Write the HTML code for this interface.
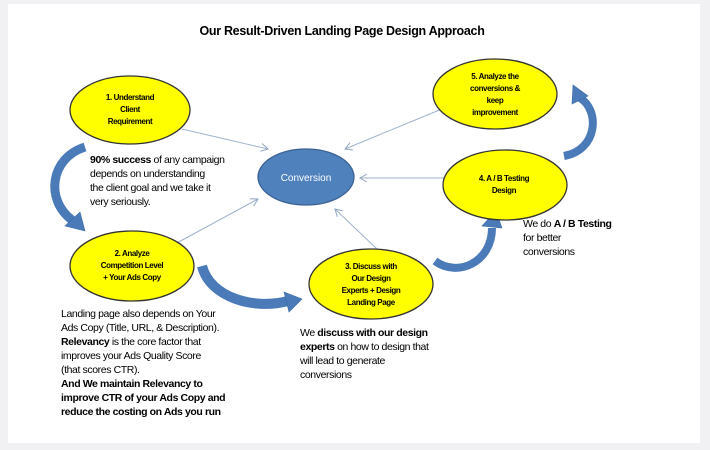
<!DOCTYPE html>
<html><head><meta charset="utf-8"><style>
html,body{margin:0;padding:0;background:#f1f1f3;}
svg{display:block;font-family:"Liberation Sans",sans-serif;}
.lb{font-size:8px;font-weight:bold;text-anchor:middle;letter-spacing:-0.4px;}
.tx{font-size:10.5px;letter-spacing:-0.4px;}
</style></head><body>
<svg width="710" height="450" viewBox="0 0 710 450" xmlns="http://www.w3.org/2000/svg">
<defs>
<marker id="ah" markerWidth="10" markerHeight="10" refX="8" refY="5" orient="auto" markerUnits="userSpaceOnUse"><path d="M1,1 L8,5 L1,9" fill="none" stroke="#8ea3bf" stroke-width="1"/></marker>
</defs>
<rect x="8" y="4" width="692" height="439" fill="#fff"/>
<text x="342" y="35" text-anchor="middle" font-size="12.5" font-weight="bold" letter-spacing="-0.3">Our Result-Driven Landing Page Design Approach</text>

<g stroke="#9fb3cc" stroke-width="1" fill="none">
<line x1="182" y1="129" x2="268" y2="149" marker-end="url(#ah)"/>
<line x1="175" y1="244" x2="258" y2="199" marker-end="url(#ah)"/>
<line x1="378" y1="250" x2="335" y2="209" marker-end="url(#ah)"/>
<line x1="453" y1="178" x2="360" y2="178" marker-end="url(#ah)"/>
<line x1="454" y1="104" x2="345" y2="149" marker-end="url(#ah)"/>
</g>

<!-- curved arrows -->
<g fill="none" stroke="#4a7ab8" stroke-linecap="butt">
<path d="M85,147 C50,158 45,200 72,220" stroke-width="9"/>
<path d="M202,266 C210,298 255,310 288,301" stroke-width="10"/>
<path d="M435,261 C458,278 492,262 492,228" stroke-width="8"/>
<path d="M564,156 C598,150 600,110 580,98" stroke-width="8"/>
</g>
<g fill="#4a7ab8" stroke="#3a6aa5" stroke-width="0.6">
<path d="M65,226 L85,231 L80,212 Z"/>
<path d="M284,292 L302,299 L289,312 Z"/>
<path d="M482,226 L496,211 L502,228 Z"/>
<path d="M572,104 L573,85 L588,96 Z"/>
</g>

<g fill="#ffff00" stroke="#333" stroke-width="1.3">
<ellipse cx="130" cy="110" rx="60" ry="34"/>
<ellipse cx="132" cy="266" rx="62" ry="35"/>
<ellipse cx="371" cy="284" rx="62" ry="35"/>
<ellipse cx="505" cy="185" rx="62" ry="35"/>
<ellipse cx="495" cy="94" rx="62" ry="35"/>
</g>
<ellipse cx="306" cy="177" rx="48" ry="28" fill="#4f81bd" stroke="#3a6193" stroke-width="1.3"/>
<text x="306" y="181" text-anchor="middle" fill="#fff" font-size="10">Conversion</text>

<text class="lb" x="130" y="100">1. Understand</text>
<text class="lb" x="130" y="112">Client</text>
<text class="lb" x="130" y="124">Requirement</text>

<text class="lb" x="132" y="256">2. Analyze</text>
<text class="lb" x="132" y="268">Competition Level</text>
<text class="lb" x="132" y="280">+ Your Ads Copy</text>

<text class="lb" x="371" y="269">3. Discuss with</text>
<text class="lb" x="371" y="281">Our Design</text>
<text class="lb" x="371" y="293">Experts + Design</text>
<text class="lb" x="371" y="305">Landing Page</text>

<text class="lb" x="504" y="181">4. A / B Testing</text>
<text class="lb" x="504" y="193">Design</text>

<text class="lb" x="495" y="79">5. Analyze the</text>
<text class="lb" x="495" y="91">conversions &amp;</text>
<text class="lb" x="495" y="103">keep</text>
<text class="lb" x="495" y="115">improvement</text>

<text class="tx" x="90" y="163"><tspan font-weight="bold">90% success </tspan>of any campaign</text>
<text class="tx" x="90" y="177">depends on understanding</text>
<text class="tx" x="90" y="191">the client goal and we take it</text>
<text class="tx" x="90" y="205">very seriously.</text>

<text class="tx" x="523" y="227">We do <tspan font-weight="bold">A / B Testing</tspan></text>
<text class="tx" x="523" y="241">for better</text>
<text class="tx" x="523" y="255">conversions</text>

<text class="tx" x="61" y="317">Landing page also depends on Your</text>
<text class="tx" x="61" y="331">Ads Copy (Title, URL, &amp; Description).</text>
<text class="tx" x="61" y="345"><tspan font-weight="bold">Relevancy </tspan> is the core factor that</text>
<text class="tx" x="61" y="359">improves your Ads Quality Score</text>
<text class="tx" x="61" y="373">(that scores CTR).</text>
<text class="tx" x="61" y="387" font-weight="bold">And We maintain Relevancy to</text>
<text class="tx" x="61" y="401" font-weight="bold">improve CTR of your Ads Copy and</text>
<text class="tx" x="61" y="415" font-weight="bold">reduce the costing on Ads you run</text>

<text class="tx" x="300" y="336">We <tspan font-weight="bold">discuss with our design</tspan></text>
<text class="tx" x="300" y="350"><tspan font-weight="bold">experts</tspan> on how to design that</text>
<text class="tx" x="300" y="364">will lead  to generate</text>
<text class="tx" x="300" y="378">conversions</text>
</svg>
</body></html>
